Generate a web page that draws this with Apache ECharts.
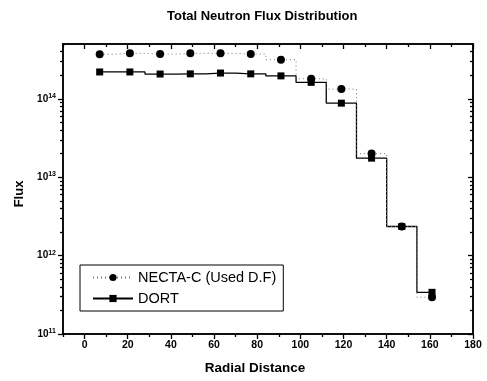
<!DOCTYPE html>
<html>
<head>
<meta charset="utf-8">
<script src="https://cdn.jsdelivr.net/npm/echarts@6/dist/echarts.min.js"></script>
<style>
  html, body { margin: 0; padding: 0; background: #fff; }
  #chart { width: 487px; height: 381px; }
</style>
</head>
<body>
<div id="chart"></div>
<script>
// radial positions (cm) and flux values
const radial = [7, 21, 35, 49, 63, 77, 91, 105, 119, 133, 147, 161];
const necta = [3.7e14, 3.8e14, 3.72e14, 3.8e14, 3.8e14, 3.72e14, 3.15e14, 1.8e14, 1.33e14, 2.0e13, 2.35e12, 2.95e11];
const dort = [2.2e14, 2.2e14, 2.07e14, 2.08e14, 2.13e14, 2.08e14, 1.96e14, 1.62e14, 8.8e13, 1.75e13, 2.35e12, 3.4e11];

const xMajor = [0, 20, 40, 60, 80, 100, 120, 140, 160, 180];
const xMinor = [-10, 10, 30, 50, 70, 90, 110, 130, 150, 170];
const yMajor = [1e11, 1e12, 1e13, 1e14];
const yMinor = [];
[1e11, 1e12, 1e13, 1e14].forEach(function (d) {
  for (let k = 2; k <= 9; k++) {
    if (d * k <= 5e14) yMinor.push(d * k);
  }
});

const font = 'Liberation Sans, Arial, sans-serif';
const chart = echarts.init(document.getElementById('chart'));

function xAxisDef(pos, ticks, len, inside, labels) {
  return {
    type: 'value', position: pos, min: -10, max: 180,
    axisLine: { show: true, onZero: false, lineStyle: { color: '#000', width: 1.5 } },
    axisTick: { show: true, customValues: ticks, length: len, inside: inside, lineStyle: { color: '#000', width: 1.3 } },
    axisLabel: labels ? { show: true, customValues: xMajor, color: '#000', fontFamily: font, fontWeight: 'bold', fontSize: 10.5, margin: 6 } : { show: false },
    splitLine: { show: false }
  };
}
function yAxisDef(pos, ticks, len, inside, labels) {
  return {
    type: 'log', logBase: 10, position: pos, min: 1e11, max: 5e14,
    axisLine: { show: true, onZero: false, lineStyle: { color: '#000', width: 1.5 } },
    axisTick: { show: true, customValues: ticks, length: len, inside: inside, lineStyle: { color: '#000', width: 1.3 } },
    axisLabel: labels ? {
      show: true, customValues: yMajor, margin: 7,
      formatter: function (v) { return '{b|10}{s|' + Math.round(Math.log10(v)) + '}'; },
      rich: {
        b: { color: '#000', fontFamily: font, fontWeight: 'bold', fontSize: 10 },
        s: { color: '#000', fontFamily: font, fontWeight: 'bold', fontSize: 7, verticalAlign: 'bottom', padding: [0, 0, 6, 0] }
      }
    } : { show: false },
    splitLine: { show: false }
  };
}

chart.setOption({
  backgroundColor: '#fff',
  animation: false,
  title: {
    text: 'Total Neutron Flux Distribution',
    left: 162, top: 5,
    textStyle: { fontFamily: font, fontWeight: 'bold', fontSize: 13, color: '#000' }
  },
  grid: { left: 63, right: 14, top: 44, bottom: 47 },
  legend: {
    orient: 'vertical', left: 80, top: 265,
    borderColor: '#000', borderWidth: 1, padding: [5, 7, 5, 12],
    itemWidth: 40, itemHeight: 9, itemGap: 6,
    textStyle: { fontFamily: font, fontSize: 14.5, color: '#000' },
    data: ['NECTA-C (Used D.F)', 'DORT']
  },
  xAxis: [
    Object.assign(xAxisDef('bottom', xMajor, 5, false, true), {
      name: 'Radial Distance', nameLocation: 'middle', nameGap: 27,
      nameTextStyle: { fontFamily: font, fontWeight: 'bold', fontSize: 13.5, color: '#000', padding: [0, 26, 0, 0] }
    }),
    xAxisDef('bottom', xMinor, 3, false, false),
    xAxisDef('top', xMajor, 5, true, false),
    xAxisDef('top', xMinor, 3, true, false)
  ],
  yAxis: [
    Object.assign(yAxisDef('left', yMajor, 5, false, true), {
      name: 'Flux', nameLocation: 'middle', nameGap: 33,
      nameTextStyle: { fontFamily: font, fontWeight: 'bold', fontSize: 13, color: '#000', padding: [0, 10, 0, 0] }
    }),
    yAxisDef('left', yMinor, 3, false, false),
    yAxisDef('right', yMajor, 5, true, false),
    yAxisDef('right', yMinor, 3, true, false)
  ],
  series: [
    {
      name: 'NECTA-C (Used D.F)', type: 'line', step: 'middle',
      data: radial.map(function (x, i) { return [x, necta[i]]; }),
      symbol: 'circle', symbolSize: 8,
      itemStyle: { color: '#000' },
      lineStyle: { color: '#777', width: 1, type: [1, 3] },
      z: 3
    },
    {
      name: 'DORT', type: 'line', step: 'middle',
      data: radial.map(function (x, i) { return [x, dort[i]]; }),
      symbol: 'rect', symbolSize: 7,
      itemStyle: { color: '#000' },
      lineStyle: { color: '#000', width: 1.3 },
      z: 2
    }
  ]
});
</script>
</body>
</html>
